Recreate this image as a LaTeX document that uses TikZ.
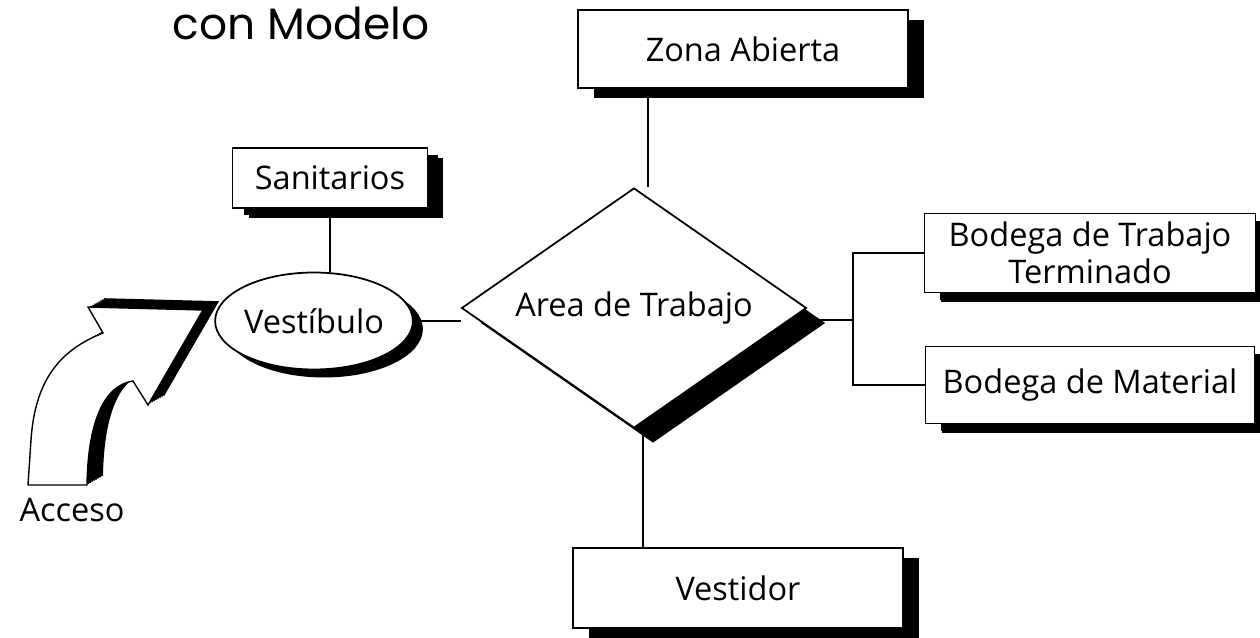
\documentclass[tikz,border=0pt]{standalone}
\usepackage{fontspec}
\setmainfont{Open Sans}
\newfontfamily\titlefont{Poppins}
\usetikzlibrary{positioning,shapes.geometric,shadows,backgrounds}

\newcommand{\accesoshape}{
  (28,485) -- (31,440) .. controls (35,380) and (60,350) .. (103,333)
  -- (88,307) -- (203,310) -- (148,405) -- (133,381)
  .. controls (105,385) and (88,420) .. (87,485) -- cycle}

\begin{document}
\begin{tikzpicture}[
  x=0.02cm, y=-0.02cm,
  font=\fontsize{18.5}{21}\selectfont,
  line width=1pt,
  box/.style={
    rectangle, draw=black, line width=1pt,
    fill=white, inner sep=2pt, align=center,
    drop shadow={shadow xshift=0.32cm, shadow yshift=-0.2cm,
                 fill=black, opacity=1}
  },
  hall/.style={
    ellipse, draw=black, line width=1pt, fill=white,
    inner sep=0pt, minimum width=3.44cm, minimum height=1.94cm,
    drop shadow={shadow xshift=0.2cm, shadow yshift=-0.16cm,
                 fill=black, opacity=1}
  },
  work/.style={
    diamond, draw=black, line width=1pt, fill=white,
    aspect=1.44, inner sep=0pt,
    minimum width=6.9cm, minimum height=4.8cm,
    drop shadow={shadow xshift=0.38cm, shadow yshift=-0.3cm,
                 fill=black, opacity=1}
  },
  link/.style={draw=black, line width=1.2pt}
]
\useasboundingbox (0,0) rectangle (1260,638);

% --- title ---------------------------------------------------
\node[anchor=base, font=\titlefont\fontsize{25}{28}\selectfont] (title) at (301,40) {con Modelo};

% --- areas ---------------------------------------------------
\node[box, minimum width=6.6cm, minimum height=1.56cm] (zona) at (743,49) {Zona Abierta};
\node[box, minimum width=3.9cm, minimum height=1.2cm,
      drop shadow={shadow xshift=0.22cm, shadow yshift=-0.14cm, fill=black, opacity=1}]
      (sanit) at (330,178) {Sanitarios};
\node[hall] (vest) at (314,321) {Vestíbulo};
\node[work] (area) at (634,308) {Area de Trabajo};
\node[box, minimum width=6.62cm, minimum height=1.58cm,
      drop shadow={shadow xshift=0.3cm, shadow yshift=-0.15cm, fill=black, opacity=1}]
      (bterm) at (1090,253) {Bodega de Trabajo\\Terminado};
\node[box, minimum width=6.58cm, minimum height=1.54cm,
      drop shadow={shadow xshift=0.3cm, shadow yshift=-0.15cm, fill=black, opacity=1}]
      (bmat) at (1090,385) {Bodega de Material};
\node[box, minimum width=6.6cm, minimum height=1.6cm] (vestidor) at (738,588) {Vestidor};

% --- access arrow --------------------------------------------
\foreach \k in {1,...,8}
  \fill[black, shift={(2*\k,-1.1*\k)}] \accesoshape;
\filldraw[fill=white, draw=black, line width=0.8pt] \accesoshape;
\node (acceso) at (72,510) {Acceso};

% --- connections ---------------------------------------------
\coordinate (zt) at (648,88);
\coordinate (br) at (853,320);
\coordinate (vt) at (643,548);
\begin{scope}[on background layer]
  \draw[link] (zt) -- (zt |- area.north);
  \draw[link] (sanit.south) -- (sanit.south |- vest.north);
  \draw[link] (vest.east) -- (vest.east -| area.west);
  \draw[link] (area.east |- br) -- (br);
  \draw[link] (bterm.west) -| (br) |- (bmat.west);
  \draw[link] (vt |- area.south) -- (vt);
\end{scope}

\end{tikzpicture}
\end{document}
